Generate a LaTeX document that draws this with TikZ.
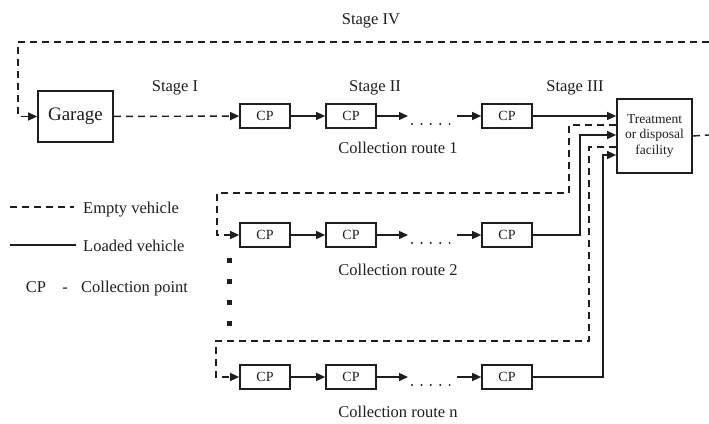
\documentclass[tikz,border=0pt]{standalone}
\usepackage{fontspec}
\setmainfont{Liberation Serif}
\usetikzlibrary{arrows.meta}
\definecolor{ink}{RGB}{30,30,30}
\begin{document}
\begin{tikzpicture}[x=1pt,y=-1pt, color=ink,
  lbl/.style={inner sep=0pt, anchor=base, font=\fontsize{16.5}{19}\selectfont},
  cpbox/.style={draw, line width=1.7pt, minimum width=50pt, minimum height=24pt, inner sep=0pt, font=\fontsize{14}{16}\selectfont},
  garagebox/.style={draw, line width=1.7pt, minimum width=75pt, minimum height=51pt, inner sep=0pt, font=\fontsize{19}{22}\selectfont},
  facbox/.style={draw, line width=1.7pt, minimum width=75pt, minimum height=74pt, inner sep=0pt, align=center, font=\fontsize{13.5}{15.7}\selectfont},
  emptyv/.style={line width=1.4pt, dash pattern=on 7pt off 5pt},
  loaded/.style={line width=1.4pt},
  arr/.style={-{Triangle[length=9pt,width=8pt]}}
]
\useasboundingbox (0,0) rectangle (709,423);

% nodes
\node[garagebox] (garage) at (75.5,116.5) {Garage};
\node[cpbox] (r1a) at (265,116) {CP};
\node[cpbox] (r1b) at (351,116) {CP};
\node[cpbox] (r1c) at (507,116) {CP};
\node[cpbox] (r2a) at (265,235) {CP};
\node[cpbox] (r2b) at (351,235) {CP};
\node[cpbox] (r2c) at (507,235) {CP};
\node[cpbox] (rna) at (265,377) {CP};
\node[cpbox] (rnb) at (351,377) {CP};
\node[cpbox] (rnc) at (507,377) {CP};
\node[facbox] (fac) at (654.5,136) {Treatment\\or disposal\\facility};

% labels
\node[lbl] (s4) at (371,24) {Stage IV};
\node[lbl] (s1) at (175,91) {Stage I};
\node[lbl] (s2) at (375,91) {Stage II};
\node[lbl] (s3) at (575,91) {Stage III};
\node[lbl] (cr1) at (398,153) {Collection route 1};
\node[lbl] (cr2) at (398,275) {Collection route 2};
\node[lbl] (crn) at (398,417) {Collection route n};

% coordinates
\coordinate (tr) at (709,42);
\coordinate (tl) at (18,42);
\coordinate (fr) at (709,135);
\foreach \r/\y in {1/116,2/235,n/377}{
  \coordinate (d\r s) at (408,\y);
  \coordinate (d\r e) at (457,\y);
}
\coordinate (e2) at (569,125);
\coordinate (c2) at (569,193);
\coordinate (l2) at (217,193);
\coordinate (v2) at (580,135);
\coordinate (en) at (589,147);
\coordinate (cn) at (589,341);
\coordinate (ln) at (216,341);
\coordinate (vn) at (603,155);

% stage IV loop
\draw[emptyv] (fac.east) -- (fr);
\draw[emptyv,arr] (tr) -- (tl) |- (garage.west);

% route 1
\draw[emptyv,arr] (garage) -- (r1a);
\draw[loaded,arr] (r1a) -- (r1b);
\draw[loaded,arr] (r1b) -- (d1s);
\draw[loaded,arr] (d1e) -- (r1c);
\draw[loaded,arr] (r1c) -- (r1c -| fac.west);

% route 2
\draw[emptyv,arr] (fac.west |- e2) -- (e2) -- (c2) -- (l2) |- (r2a.west);
\draw[loaded,arr] (r2a) -- (r2b);
\draw[loaded,arr] (r2b) -- (d2s);
\draw[loaded,arr] (d2e) -- (r2c);
\draw[loaded,arr] (r2c.east) -| (v2) -- (fac.west |- v2);

% route n
\draw[emptyv,arr] (fac.west |- en) -- (en) -- (cn) -- (ln) |- (rna.west);
\draw[loaded,arr] (rna) -- (rnb);
\draw[loaded,arr] (rnb) -- (dns);
\draw[loaded,arr] (dne) -- (rnc);
\draw[loaded,arr] (rnc.east) -| (vn) -- (fac.west |- vn);

% dotted gaps
\foreach \y in {116,235,377}{
  \foreach \x in {412,421.4,430.8,440.2,449.6}{
    \fill (\x,\y+8) circle[radius=1.1pt];
  }
}
% vertical ellipsis squares
\foreach \y in {260,281,302,323}{
  \fill (227,\y-2) rectangle ++(4.5,4.5);
}

% legend
\coordinate (lg1a) at (10,207);
\coordinate (lg1b) at (74,207);
\coordinate (lg2a) at (10,245);
\coordinate (lg2b) at (76,245);
\draw[emptyv] (lg1a) -- (lg1b);
\draw[loaded] (lg2a) -- (lg2b);
\node[lbl, anchor=base west] (lgt1) at (83,213) {Empty vehicle};
\node[lbl, anchor=base west] (lgt2) at (83,251) {Loaded vehicle};
\node[lbl] (lgcp) at (36,292) {CP};
\node[lbl] (lgdash) at (65,292) {-};
\node[lbl, anchor=base west] (lgt3) at (81,292) {Collection point};
\end{tikzpicture}
\end{document}
